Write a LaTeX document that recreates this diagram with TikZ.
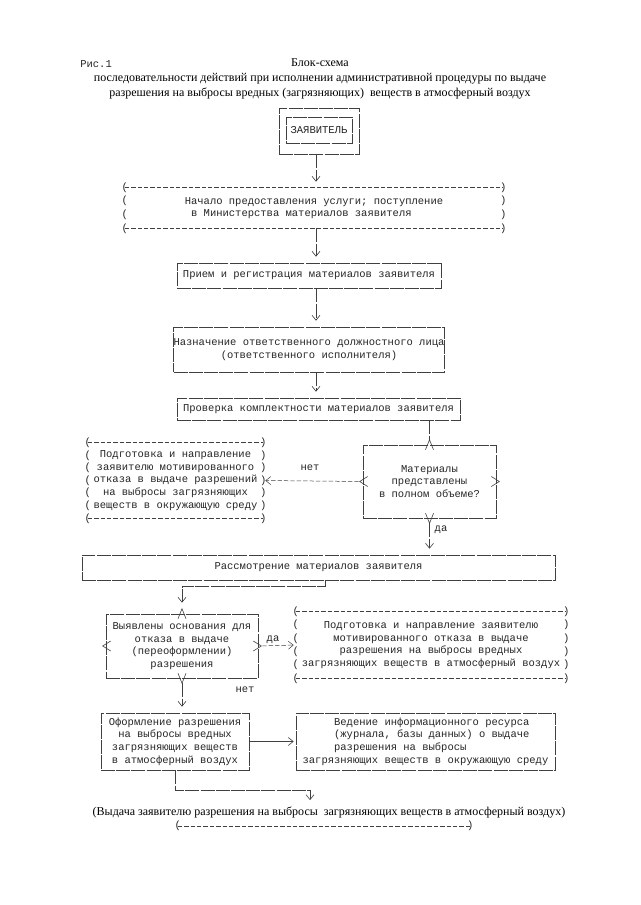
\documentclass[tikz,border=0pt]{standalone}
\usepackage{fontspec}
\setmainfont{Liberation Serif}
\newfontfamily\monofont{Liberation Mono}
\usetikzlibrary{arrows.meta,calc}

\tikzset{every picture/.style={line width=0.6pt}}
\tikzset{
  txt/.style={font=\monofont\fontsize{10.5}{12.6}\selectfont, inner sep=0pt, text=black!85},
  blk/.style={txt, draw=black!75, dash pattern=on 14pt off 1.2pt, align=center},
  pbox/.style={txt, align=center},
  pline/.style={draw=black!75, line width=0.5pt, dash pattern=on 4.4pt off 2pt},
  paren/.style={txt},
  mk/.style={draw=black!75, line width=0.6pt},
  conn/.style={draw=black!75, dash pattern=on 14pt off 1.2pt, shorten >=6pt, -{Straight Barb[length=5pt,width=8pt]}},
  dconn/.style={pline, -{Straight Barb[length=5pt,width=8pt]}},
  lbl/.style={txt}
}

\begin{document}
\begin{tikzpicture}[x=1pt,y=-1pt]
    \useasboundingbox (0,0) rectangle (640,905);
    \fill[white] (0,0) rectangle (640,905);

    % Heading
    \node[txt, anchor=west] (ris) at (80,64) {Рис.1};
    \node[align=center, inner sep=0pt, font=\fontsize{12}{15}\selectfont] (title) at (320,79) {Блок-схема\\последовательности действий при исполнении административной процедуры по выдаче\\разрешения на выбросы вредных (загрязняющих)\ \ веществ в атмосферный воздух};

    % Column of the steps
    \coordinate (col) at (316,0);
    \node[blk, minimum width=66, minimum height=26] (zav) at (319,130) {ЗАЯВИТЕЛЬ};
    \node[blk, minimum width=80, minimum height=46] (zavout) at (319,131) {};
    \node[pbox, minimum width=378, minimum height=40, align=left] (start) at (314,208) {Начало предоставления услуги; поступление\\\phantom{x}в Министерства материалов заявителя};
    \node[blk, minimum width=264, minimum height=25] (reg) at (309,275.5) {Прием и регистрация материалов заявителя};
    \node[blk, minimum width=264, minimum height=45] (naz) at (309,349.5) {Назначение ответственного должностного лица\\(ответственного исполнителя)};
    \node[blk, minimum width=283, minimum height=22] (prov) at (318.5,409) {Проверка комплектности материалов заявителя};

    % Check of the materials
    \node[blk, minimum width=133, minimum height=73] (dec1) at (429.5,481.5) {Материалы\\представлены\\в полном объеме?};
    \node[pbox, minimum width=175, minimum height=75] (refuse1) at (175.5,480.5) {Подготовка и направление\\заявителю мотивированного\\отказа в выдаче разрешений\\на выбросы загрязняющих\\веществ в окружающую среду};
    \node[blk, minimum width=473, minimum height=25] (rass) at (318.5,567.5) {Рассмотрение материалов заявителя};

    % Grounds for refusal
    \node[blk, minimum width=152, minimum height=64] (dec2) at (182,646) {Выявлены основания для\\отказа в выдаче\\(переоформлении)\\разрешения};
    \node[pbox, minimum width=270, minimum height=66] (refuse2) at (431,645) {Подготовка и направление заявителю\\мотивированного отказа в выдаче\\разрешения на выбросы вредных\\загрязняющих веществ в атмосферный воздух};
    \node[blk, minimum width=148, minimum height=57] (ofor) at (175,741.5) {Оформление разрешения\\на выбросы вредных\\загрязняющих веществ\\в атмосферный воздух};
    \node[blk, minimum width=259, minimum height=57, align=left] (ved) at (425.5,741.5) {\phantom{xxxxx}Ведение информационного ресурса\\\phantom{xxxxx}(журнала, базы данных) о выдаче\\\phantom{xxxxx}разрешения на выбросы\\загрязняющих веществ в окружающую среду};
    \node[inner sep=0pt, font=\fontsize{12}{15}\selectfont] (final) at (329,812) {(Выдача заявителю разрешения на выбросы\ \ загрязняющих веществ в атмосферный воздух)};
    \node[minimum width=292, inner sep=0pt] (finl) at (324,826) {};

    % Frames of the bracket boxes
    \draw[pline] (start.north west) -- (start.north east) (start.south west) -- (start.south east);
    \foreach \k in {0,...,3}{
      \node[paren] (start-l\k) at ($(start.north west)!\k/3!(start.south west)$) {(};
      \node[paren] (start-r\k) at ($(start.north east)!\k/3!(start.south east)$) {)};
    }
    \draw[pline] (refuse1.north west) -- (refuse1.north east) (refuse1.south west) -- (refuse1.south east);
    \foreach \k in {0,...,6}{
      \node[paren] (refuse1-l\k) at ($(refuse1.north west)!\k/6!(refuse1.south west)$) {(};
      \node[paren] (refuse1-r\k) at ($(refuse1.north east)!\k/6!(refuse1.south east)$) {)};
    }
    \draw[pline] (refuse2.north west) -- (refuse2.north east) (refuse2.south west) -- (refuse2.south east);
    \foreach \k in {0,...,5}{
      \node[paren] (refuse2-l\k) at ($(refuse2.north west)!\k/5!(refuse2.south west)$) {(};
      \node[paren] (refuse2-r\k) at ($(refuse2.north east)!\k/5!(refuse2.south east)$) {)};
    }
    \draw[pline] (finl.west) -- (finl.east);
    \node[paren] (finl-l) at (finl.west) {(};
    \node[paren] (finl-r) at (finl.east) {)};

    % Corners of the check boxes
    \draw[mk] ($(dec1.north)+(-4,5)$) -- ($(dec1.north)+(0,-5)$) -- ($(dec1.north)+(4,5)$);
    \draw[mk] ($(dec1.south)+(-4,-5)$) -- ($(dec1.south)+(0,5)$) -- ($(dec1.south)+(4,-5)$);
    \draw[mk] ($(dec1.west)+(5,-5)$) -- ($(dec1.west)+(-3,0)$) -- ($(dec1.west)+(5,5)$);
    \draw[mk] ($(dec1.east)+(-5,-5)$) -- ($(dec1.east)+(3,0)$) -- ($(dec1.east)+(-5,5)$);
    \draw[mk] ($(dec2.north)+(-4,5)$) -- ($(dec2.north)+(0,-5)$) -- ($(dec2.north)+(4,5)$);
    \draw[mk] ($(dec2.south)+(-4,-5)$) -- ($(dec2.south)+(0,5)$) -- ($(dec2.south)+(4,-5)$);
    \draw[mk] ($(dec2.west)+(5,-5)$) -- ($(dec2.west)+(-3,0)$) -- ($(dec2.west)+(5,5)$);
    \draw[mk] ($(dec2.east)+(-5,-5)$) -- ($(dec2.east)+(3,0)$) -- ($(dec2.east)+(-5,5)$);

    % Connectors
    \draw[conn] (zavout.south -| col) -- (start.north -| col);
    \draw[conn] (start.south -| col) -- (reg.north -| col);
    \draw[conn] (reg.south -| col) -- (naz.north -| col);
    \draw[conn] (naz.south -| col) -- (prov.north -| col);
    \draw[mk, dash pattern=on 14pt off 1.2pt] (prov.south -| dec1.north) -- ($(dec1.north)+(0,-5)$);
    \draw[dconn, shorten <=4pt, shorten >=2pt] (dec1.west) -- (refuse1.east);
    \draw[conn] ($(dec1.south)+(0,5)$) -- (rass.north -| dec1.south);
    \coordinate (rb) at (325,0);
    \draw[conn] (rass.south -| rb) -- ++(0,6) -| ($(dec2.north)+(0,-5)$);
    \draw[dconn, shorten <=4pt, shorten >=2pt] (dec2.east) -- (refuse2.west);
    \draw[conn] ($(dec2.south)+(0,5)$) -- (ofor.north -| dec2.south);
    \draw[draw=black!75, shorten >=2pt, -{Straight Barb[length=5pt,width=8pt]}] (ofor.east) -- (ved.west);
    \draw[conn] (ofor.south) -- ++(0,20) -| ([xshift=-19pt]final.north);

    % Labels
    \node[lbl] (no1) at (310,468) {нет};
    \node[lbl] (yes1) at (441,530) {да};
    \node[lbl] (yes2) at (273,640) {да};
    \node[lbl] (no2) at (245,690) {нет};

\end{tikzpicture}
\end{document}
